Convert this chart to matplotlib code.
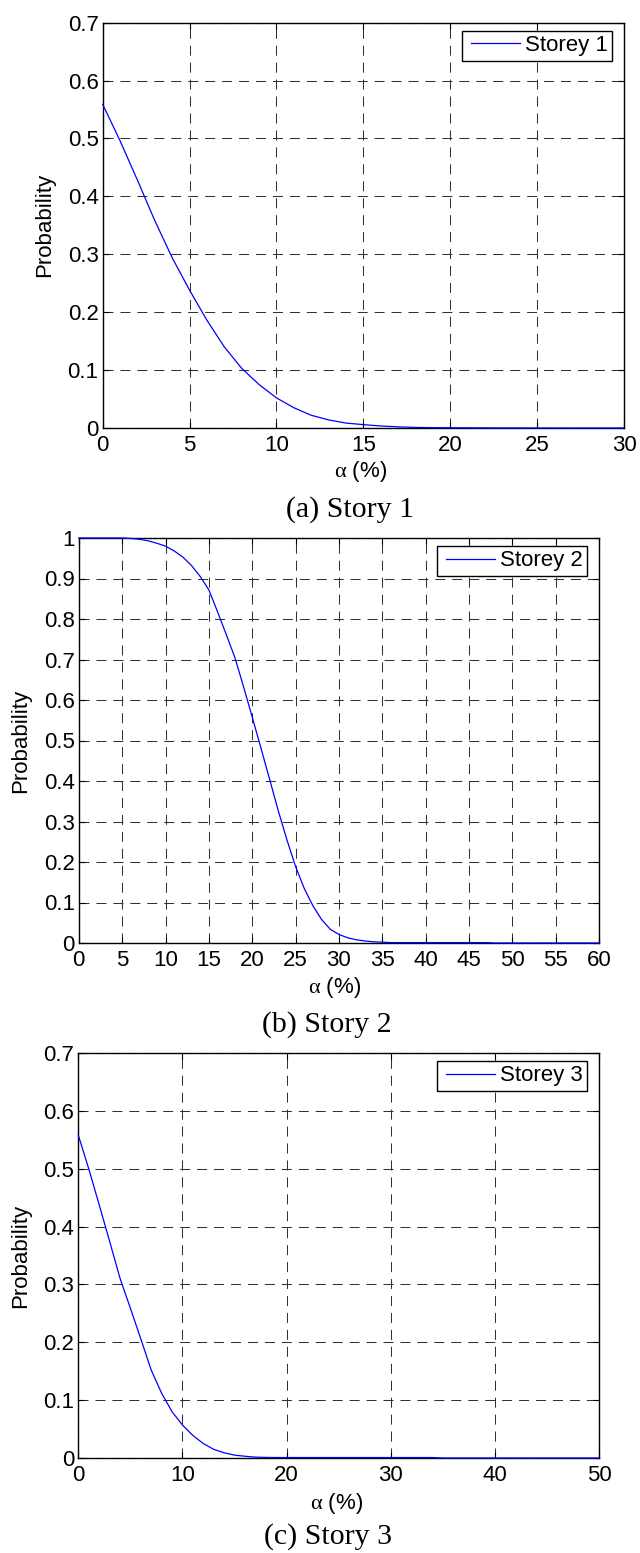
import matplotlib
matplotlib.use("Agg")
import matplotlib.pyplot as plt
from matplotlib.ticker import FuncFormatter, MultipleLocator
from matplotlib.legend_handler import HandlerLine2D
from matplotlib.lines import Line2D

plt.rcParams["font.family"] = ["Liberation Sans", "DejaVu Sans"]
plt.rcParams["mathtext.fontset"] = "custom"
plt.rcParams["mathtext.rm"] = "Liberation Serif"
plt.rcParams["lines.scale_dashes"] = False

# ---- data: exceedance probability vs. alpha (%) for each storey ----
story1_alpha = list(range(0, 31))
story1_prob = [0.559, 0.496, 0.428, 0.358, 0.294, 0.238, 0.186, 0.140, 0.103, 0.075,
               0.052, 0.035, 0.022, 0.014, 0.0085, 0.0058, 0.0035, 0.002, 0.001, 0.0006,
               0.0004, 0.0003, 0.0002, 0.0001, 0.0001, 0.0, 0.0, 0.0, 0.0, 0.0, 0.0]

story2_alpha = list(range(0, 61))
story2_prob = [1.0, 1.0, 1.0, 1.0, 1.0, 1.0, 0.999, 0.997, 0.993, 0.987,
               0.980, 0.968, 0.953, 0.932, 0.905, 0.872, 0.818, 0.762, 0.705, 0.633,
               0.558, 0.482, 0.405, 0.327, 0.255, 0.189, 0.135, 0.092, 0.058, 0.034,
               0.021, 0.013, 0.008, 0.005, 0.003, 0.002, 0.001, 0.001, 0.001, 0.001,
               0.001, 0.001, 0.001, 0.001, 0.001, 0.001, 0.001, 0.001, 0.0, 0.0,
               0.0, 0.0, 0.0, 0.0, 0.0, 0.0, 0.0, 0.0, 0.0, 0.0, 0.0]

story3_alpha = list(range(0, 51))
story3_prob = [0.558, 0.500, 0.438, 0.375, 0.311, 0.259, 0.206, 0.152, 0.112, 0.080,
               0.057, 0.039, 0.025, 0.015, 0.009, 0.005, 0.003, 0.0015, 0.001, 0.0008,
               0.0008, 0.0008, 0.0008, 0.0008, 0.0008, 0.0008, 0.0008, 0.0008, 0.0008, 0.0008,
               0.0008, 0.0008, 0.0008, 0.0008, 0.0008, 0.0, 0.0, 0.0, 0.0, 0.0,
               0.0, 0.0, 0.0, 0.0, 0.0, 0.0, 0.0, 0.0, 0.0, 0.0, 0.0]

series_labels = ["Storey 1", "Storey 2", "Storey 3"]
captions = ["(a) Story 1", "(b) Story 2", "(c) Story 3"]
x_limits = [30, 60, 50]
x_steps = [5, 5, 10]
y_limits = [0.7, 1.0, 0.7]

# ---- layout (pixels on a 640 x 1553 canvas) ----
W, H = 640, 1553
# left, top, right, bottom of each axes box
boxes = [(102.7, 22.7, 624.0, 428.0),
         (78.8, 538.0, 599.0, 943.0),
         (78.3, 1053.0, 599.0, 1458.0)]
caption_pos = [(350, 510), (327, 1025), (327.5, 1537)]
xlabel_pos = [(361, 472), (335, 988), (336.5, 1503)]
ylabel_offset = 57.7  # distance of "Probability" centre left of the axes (px)

fig = plt.figure(figsize=(W / 100, H / 100), dpi=100)

alphas = [story1_alpha, story2_alpha, story3_alpha]
probs = [story1_prob, story2_prob, story3_prob]

fmt = FuncFormatter(lambda v, p: "%g" % round(v, 6))

for i in range(3):
    l, t, r, b = boxes[i]
    aw, ah = r - l, b - t
    ax = fig.add_axes([l / W, 1 - b / H, aw / W, ah / H])
    ax.plot(alphas[i], probs[i], color="#0000FF", lw=0.9, label=series_labels[i],
            zorder=3, clip_on=False)
    ax.set_xlim(0, x_limits[i])
    ax.set_ylim(0, y_limits[i])
    ax.xaxis.set_major_locator(MultipleLocator(x_steps[i]))
    ax.yaxis.set_major_locator(MultipleLocator(0.1))
    ax.xaxis.set_major_formatter(fmt)
    ax.yaxis.set_major_formatter(fmt)
    ax.grid(True, color="#333333", lw=0.75, linestyle=(0, (7.2, 5.0)))
    ax.tick_params(direction="in", length=4, width=0.8, top=True, right=True,
                   labelsize=16, colors="black")
    ax.tick_params(axis="x", pad=5)
    ax.tick_params(axis="y", pad=3)
    for s in ax.spines.values():
        s.set_linewidth(1.0)
        s.set_color("black")

    ax.set_xlabel(r"$\mathrm{\alpha}$ (%)", fontsize=16, va="center")
    xl_x, xl_y = xlabel_pos[i]
    ax.xaxis.set_label_coords((xl_x - l) / aw, (b - xl_y) / ah)
    ax.set_ylabel("Probability", fontsize=16, va="center")
    ax.yaxis.set_label_coords(-ylabel_offset / aw, 0.5)

    leg = ax.legend(loc="upper right", bbox_to_anchor=(1 - 12 / aw, 1 - 8 / ah),
                    borderaxespad=0, fancybox=False, framealpha=1, edgecolor="black",
                    fontsize=16, handlelength=2.39, handletextpad=0.23, borderpad=0.2,
                    handler_map={Line2D: HandlerLine2D(xpad=0.22)})
    leg.get_frame().set_linewidth(1.0)

    cx, cy = caption_pos[i]
    fig.text(cx / W, 1 - cy / H, captions[i], ha="center", va="center",
             fontsize=21.5, family=["Liberation Serif", "DejaVu Serif"])

fig.savefig("out.png", dpi=100, facecolor="white")
